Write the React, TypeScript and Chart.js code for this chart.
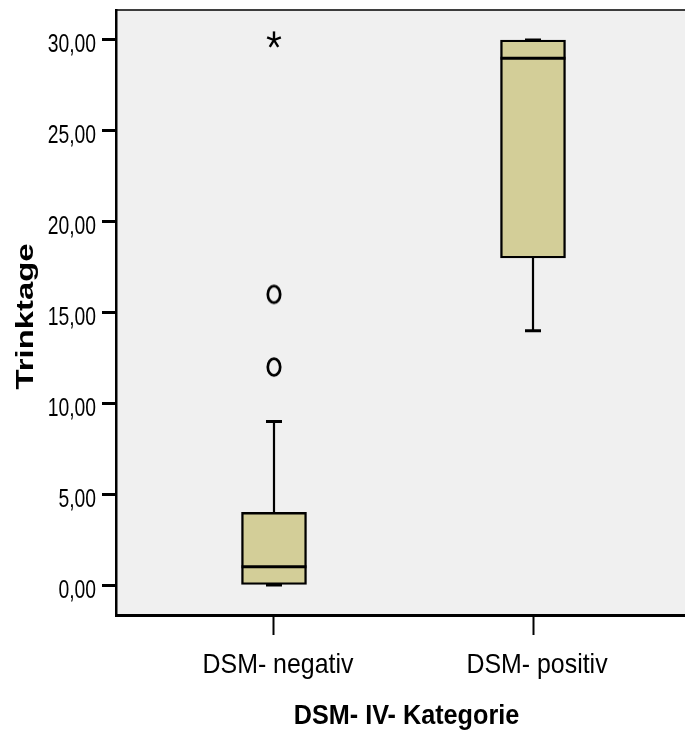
import React, { useEffect, useRef } from 'react';
import { Chart, registerables } from 'chart.js';

Chart.register(...registerables);

// ---- data ----
const categories = ['DSM- negativ', 'DSM- positiv'];
const categoryPositions = [1, 2];
const whiskerLow = [0, 14];
const q1 = [0, 18];
const median = [1, 29];
const q3 = [4, 30];
const whiskerHigh = [9, 30];
const outlierCategory = [1, 1];
const outlierValue = [12, 16];
const extremeCategory = [1];
const extremeValue = [30];
const yTicks = [0, 5, 10, 15, 20, 25, 30];
const yMin = -1.65;
const yMax = 31.65;
const xMin = 0.39;
const xMax = 2.61;
const xTitle = 'DSM- IV- Kategorie';
const yTitle = 'Trinktage';

const FONT = '"Liberation Sans", Arial, sans-serif';
const BOX_FILL = '#D3CE98';
const PLOT_BG = '#F0F0F0';

const yLabel = (v: number) => v.toFixed(2).replace('.', ',');

function makeCircleStyle(): HTMLCanvasElement {
  const c = document.createElement('canvas');
  c.width = 20;
  c.height = 24;
  const ctx = c.getContext('2d')!;
  ctx.strokeStyle = '#000';
  ctx.lineWidth = 2.7;
  ctx.beginPath();
  ctx.ellipse(10, 12, 6.2, 8.3, 0, 0, Math.PI * 2);
  ctx.stroke();
  return c;
}

function makeStarStyle(): HTMLCanvasElement {
  const c = document.createElement('canvas');
  c.width = 20;
  c.height = 22;
  const ctx = c.getContext('2d')!;
  ctx.strokeStyle = '#000';
  ctx.lineWidth = 2.4;
  const cx = 10, cy = 11;
  for (let k = 0; k < 5; k++) {
    const a = -Math.PI / 2 + (k * 2 * Math.PI) / 5;
    ctx.beginPath();
    ctx.moveTo(cx, cy);
    ctx.lineTo(cx + Math.cos(a) * 7.2, cy + Math.sin(a) * 8.6);
    ctx.stroke();
  }
  return c;
}

function drawText(ctx: CanvasRenderingContext2D, text: string, x: number, y: number, font: string, sx: number, align: CanvasTextAlign) {
  ctx.save();
  ctx.translate(x, y);
  ctx.scale(sx, 1);
  ctx.font = font;
  ctx.fillStyle = '#000';
  ctx.textAlign = align;
  ctx.textBaseline = 'alphabetic';
  ctx.fillText(text, 0, 0);
  ctx.restore();
}

const boxExtras = {
  id: 'boxExtras',
  beforeDraw(chart: any) {
    const { ctx, chartArea } = chart;
    ctx.save();
    ctx.fillStyle = PLOT_BG;
    ctx.fillRect(chartArea.left, chartArea.top, chartArea.right - chartArea.left, chartArea.bottom - chartArea.top);
    ctx.restore();
  },
  beforeDatasetsDraw(chart: any) {
    const { ctx } = chart;
    const xs = chart.scales.x;
    const ys = chart.scales.y;
    ctx.save();
    ctx.strokeStyle = '#000';
    categoryPositions.forEach((pos, i) => {
      const x = xs.getPixelForValue(pos);
      ctx.lineWidth = 2.2;
      ctx.beginPath();
      ctx.moveTo(x, ys.getPixelForValue(q3[i]));
      ctx.lineTo(x, ys.getPixelForValue(whiskerHigh[i]));
      ctx.moveTo(x, ys.getPixelForValue(q1[i]));
      ctx.lineTo(x, ys.getPixelForValue(whiskerLow[i]));
      ctx.stroke();
      ctx.lineWidth = 3;
      const half = 8;
      ctx.beginPath();
      ctx.moveTo(x - half, ys.getPixelForValue(whiskerHigh[i]));
      ctx.lineTo(x + half, ys.getPixelForValue(whiskerHigh[i]));
      ctx.moveTo(x - half, ys.getPixelForValue(whiskerLow[i]));
      ctx.lineTo(x + half, ys.getPixelForValue(whiskerLow[i]));
      ctx.stroke();
    });
    ctx.restore();
  },
  afterDatasetsDraw(chart: any) {
    const { ctx } = chart;
    const ys = chart.scales.y;
    const meta = chart.getDatasetMeta(0);
    ctx.save();
    ctx.strokeStyle = '#000';
    ctx.lineWidth = 3;
    meta.data.forEach((bar: any, i: number) => {
      const w = bar.width;
      const y = ys.getPixelForValue(median[i]);
      ctx.beginPath();
      ctx.moveTo(bar.x - w / 2, y);
      ctx.lineTo(bar.x + w / 2, y);
      ctx.stroke();
    });
    ctx.restore();
  },
  afterDraw(chart: any) {
    const { ctx, chartArea } = chart;
    const xs = chart.scales.x;
    const ys = chart.scales.y;
    ctx.save();
    ctx.strokeStyle = '#000';
    ctx.lineWidth = 1.6;
    ctx.beginPath();
    ctx.moveTo(chartArea.left, chartArea.top);
    ctx.lineTo(chartArea.right, chartArea.top);
    ctx.lineTo(chartArea.right, chartArea.bottom);
    ctx.stroke();
    ctx.restore();

    // y tick labels
    yTicks.forEach((v) => {
      const y = ys.getPixelForValue(v);
      drawText(ctx, yLabel(v), chartArea.left - 20, y + 12.5, '25.6px ' + FONT, 0.755, 'right');
    });
    // x tick labels
    categoryPositions.forEach((p, i) => {
      const x = xs.getPixelForValue(p);
      drawText(ctx, categories[i], x + 4, chartArea.bottom + 58, '28px ' + FONT, 0.89, 'center');
    });
    // x title
    drawText(ctx, xTitle, (chartArea.left + chartArea.right) / 2 + 3, chartArea.bottom + 109, 'bold 28px ' + FONT, 0.9, 'center');
    // y title
    ctx.save();
    ctx.translate(33, (chartArea.top + chartArea.bottom) / 2 + 4);
    ctx.rotate(-Math.PI / 2);
    ctx.scale(1.387, 1);
    ctx.fillStyle = '#000';
    ctx.font = 'bold 23.7px ' + FONT;
    ctx.textAlign = 'center';
    ctx.textBaseline = 'alphabetic';
    ctx.fillText(yTitle, 0, 0);
    ctx.restore();
  },
};

export default function App() {
  const ref = useRef<HTMLCanvasElement>(null);
  useEffect(() => {
    const circle = makeCircleStyle();
    const star = makeStarStyle();
    const chart = new Chart(ref.current!, {
      type: 'bar',
      data: {
        datasets: [
          {
            type: 'bar',
            data: categoryPositions.map((x, i) => ({ x, y: [q1[i], q3[i]] })) as any,
            backgroundColor: BOX_FILL,
            borderColor: '#000',
            borderWidth: 2.4,
            borderSkipped: false,
            barThickness: 65,
          } as any,
          {
            type: 'scatter',
            data: outlierCategory.map((x, i) => ({ x, y: outlierValue[i] })),
            pointStyle: circle,
            pointRadius: 8,
          } as any,
          {
            type: 'scatter',
            data: extremeCategory.map((x, i) => ({ x, y: extremeValue[i] })),
            pointStyle: star,
            pointRadius: 8,
          } as any,
        ],
      },
      options: {
        animation: false,
        responsive: false,
        devicePixelRatio: 1,
        layout: { padding: { top: 10, right: 9, left: 0, bottom: 0 } },
        plugins: { legend: { display: false }, tooltip: { enabled: false } },
        scales: {
          x: {
            type: 'linear',
            min: xMin,
            max: xMax,
            offset: false,
            afterBuildTicks: (s: any) => {
              s.ticks = categoryPositions.map((v) => ({ value: v }));
            },
            afterFit: (s: any) => {
              s.height = 118;
            },
            ticks: { display: false },
            grid: {
              offset: false,
              drawOnChartArea: false,
              drawTicks: true,
              tickLength: 20,
              tickWidth: 2,
              tickColor: '#000',
            },
            border: { color: '#000', width: 3 },
          } as any,
          y: {
            type: 'linear',
            min: yMin,
            max: yMax,
            afterBuildTicks: (s: any) => {
              s.ticks = yTicks.map((v) => ({ value: v }));
            },
            afterFit: (s: any) => {
              s.width = 116;
            },
            ticks: { display: false },
            grid: {
              drawOnChartArea: false,
              drawTicks: true,
              tickLength: 14,
              tickWidth: 3,
              tickColor: '#000',
            },
            border: { color: '#000', width: 2.5 },
          } as any,
        },
      },
      plugins: [boxExtras],
    });
    return () => chart.destroy();
  }, []);
  return (
    <div style={{ position: 'absolute', left: 0, top: 0, width: 685, height: 733, overflow: 'hidden', background: '#fff' }}>
      <canvas ref={ref} width={700} height={733} style={{ display: 'block', width: 700, height: 733 }} />
    </div>
  );
}
